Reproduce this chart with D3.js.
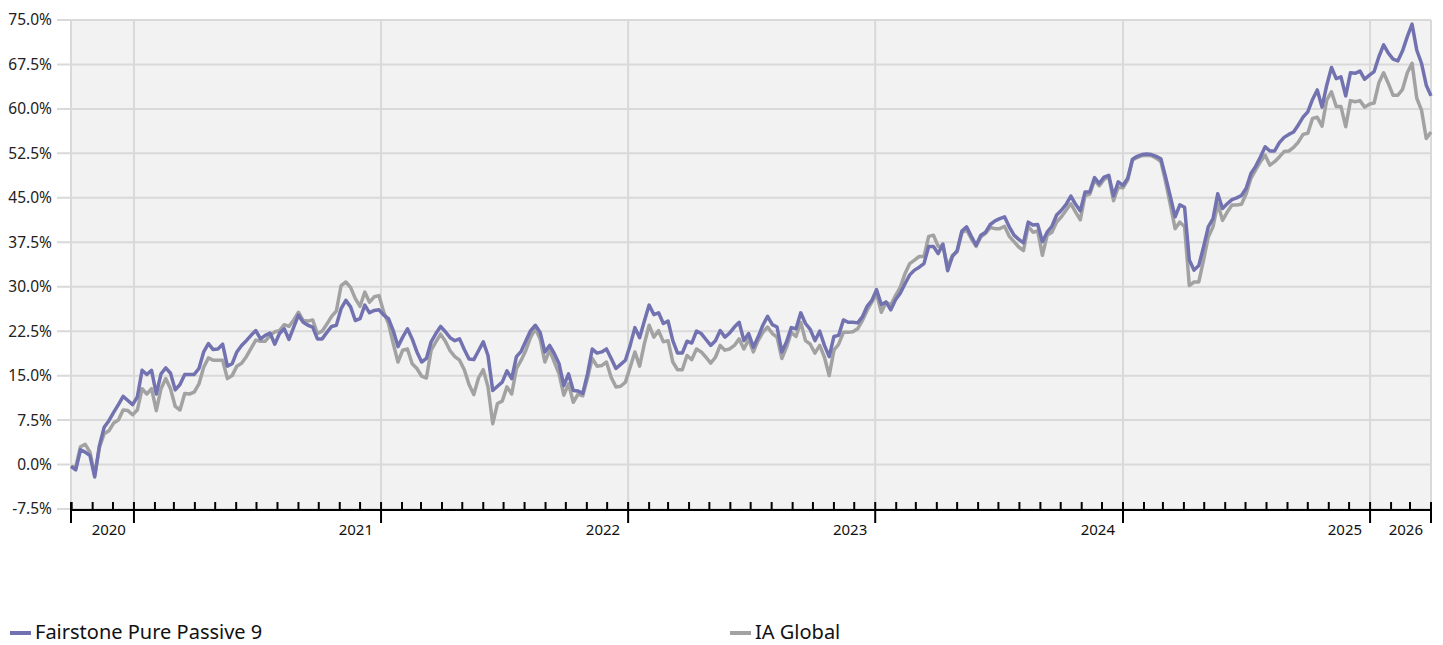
<!DOCTYPE html>
<html>
<head>
<meta charset="utf-8">
<script src="https://cdn.jsdelivr.net/npm/d3@7"></script>
<style>
	body { margin: 0; background: #ffffff; }
	svg { display: block; font-family: 'Noto Sans', sans-serif; }
</style>
</head>
<body>
<svg id="chart" width="1443" height="645"></svg>
<script>

// Series names and colours
var seriesNames = ['Fairstone Pure Passive 9', 'IA Global'];
var seriesColours = ['#7272b1', '#a2a2a2'];

// Weekly observations start on this date
var firstDate = '2020-09-30';
var axisStart = '2020-09-30';
var axisEnd = '2026-04-01';

// Cumulative return (%) - Fairstone Pure Passive 9
var fundValues = [
	-0.3, -0.9, 2.5, 2.1, 1.5, -2.1, 3.2, 6.3, 7.4, 8.8, 10.1, 11.5, 10.8, 10.1, 11.4, 15.9, 15.2, 15.9, 11.9, 15.3,
	16.3, 15.4, 12.6, 13.5, 15.2, 15.2, 15.2, 16.2, 19.0, 20.4, 19.4, 19.5, 20.3, 16.6, 17.0, 19.0, 20.1,
	20.9, 21.8, 22.6, 21.2, 21.8, 22.2, 20.3, 22.1, 22.9, 21.1, 23.2, 25.2, 24.0, 23.5, 23.2, 21.2, 21.2, 22.3,
	23.3, 23.5, 26.3, 27.7, 26.6, 24.3, 24.6, 26.9, 25.6, 26.0, 26.1, 25.2, 24.6, 22.6, 19.9, 21.5, 22.9,
	21.2, 19.0, 17.3, 17.9, 20.7, 22.1, 23.3, 22.4, 21.4, 20.9, 21.2, 19.4, 17.8, 17.7, 19.2, 20.7, 18.4, 12.5,
	13.2, 13.9, 15.8, 14.5, 18.2, 19.1, 20.9, 22.6, 23.5, 22.3, 19.0, 20.1, 18.7, 17.0, 13.3, 15.3, 12.5, 12.4,
	12.0, 15.3, 19.5, 18.8, 19.0, 19.5, 17.9, 16.2, 16.9, 17.6, 20.1, 23.1, 21.4, 24.2, 26.9, 25.3, 25.6, 23.8,
	24.2, 20.9, 18.8, 18.8, 20.8, 20.5, 22.5, 22.1, 21.1, 20.1, 20.9, 22.6, 21.5, 22.2, 23.2, 24.0, 20.9, 22.1,
	19.8, 21.5, 23.5, 25.0, 23.6, 23.2, 19.0, 20.7, 23.1, 22.9, 25.6, 23.8, 22.8, 20.9, 22.5, 20.1, 18.2, 21.6,
	21.8, 24.4, 24.0, 24.0, 23.9, 24.9, 26.7, 27.7, 29.5, 27.0, 27.4, 26.1, 27.8, 28.9, 30.5, 32.0, 32.8, 33.3,
	33.9, 36.8, 36.8, 35.6, 37.2, 32.7, 35.1, 36.1, 39.4, 40.1, 38.5, 37.0, 38.7, 39.2, 40.5, 41.1, 41.5, 41.8,
	40.1, 38.7, 38.0, 37.4, 40.9, 40.4, 40.5, 37.6, 39.2, 40.2, 42.1, 42.9, 43.9, 45.3, 43.9, 42.8, 46.0, 46.0,
	48.4, 47.4, 48.5, 48.8, 45.3, 47.7, 47.1, 48.3, 51.5, 52.0, 52.3, 52.4, 52.3, 52.0, 51.6, 48.5, 45.2, 41.8,
	43.8, 43.4, 34.5, 32.8, 33.6, 36.7, 40.1, 41.5, 45.7, 43.2, 44.0, 44.7, 45.0, 45.4, 46.6, 49.1, 50.3, 51.9,
	53.6, 52.9, 52.9, 54.3, 55.2, 55.7, 56.1, 57.3, 58.6, 59.5, 61.6, 63.2, 60.3, 64.0, 67.0, 65.1, 65.4, 62.2,
	66.1, 66.0, 66.4, 65.0, 65.7, 66.3, 68.8, 70.8, 69.4, 68.4, 68.1, 69.8, 72.2, 74.3, 69.9, 67.7, 64.0, 62.2
];

// Cumulative return (%) - IA Global sector
var sectorValues = [
	-0.3, -0.5, 3.0, 3.4, 2.1, -1.8, 2.9, 5.2, 5.7, 7.0, 7.5, 9.2, 9.1, 8.4, 9.2, 12.8, 11.9, 12.8, 9.1, 12.8,
	14.5, 12.8, 9.8, 9.2, 12.0, 11.9, 12.2, 13.6, 16.4, 18.0, 17.6, 17.6, 17.6, 14.5, 15.0, 16.6, 17.1,
	18.2, 19.6, 21.0, 20.8, 20.8, 21.8, 22.4, 22.6, 23.6, 23.3, 24.4, 25.7, 24.3, 24.2, 24.4, 22.1, 22.5, 23.7,
	25.0, 25.9, 30.2, 30.8, 29.9, 28.0, 26.7, 29.1, 27.4, 28.3, 28.5, 25.7, 23.8, 20.4, 17.3, 19.3, 19.5,
	17.0, 16.2, 14.9, 14.6, 19.3, 20.7, 22.0, 20.8, 19.2, 18.2, 17.6, 16.0, 13.5, 11.8, 14.6, 16.0, 13.1, 6.9,
	10.3, 10.7, 13.1, 11.9, 16.2, 17.6, 19.3, 21.5, 22.9, 21.2, 17.3, 19.3, 17.3, 15.3, 11.7, 13.6, 10.5, 11.9,
	11.6, 14.6, 17.9, 16.6, 16.7, 17.3, 14.7, 13.1, 13.2, 13.9, 16.4, 19.0, 16.6, 20.4, 23.5, 21.5, 22.6, 20.7,
	20.9, 17.3, 16.0, 16.0, 18.4, 17.7, 19.5, 19.0, 18.1, 17.1, 18.1, 20.1, 19.3, 19.5, 20.1, 21.2, 19.5, 21.1,
	19.0, 20.9, 22.3, 23.2, 22.1, 21.5, 17.9, 19.8, 22.3, 21.6, 24.0, 20.9, 20.3, 18.8, 20.1, 18.1, 15.0, 19.3,
	20.3, 22.3, 22.3, 22.4, 22.9, 24.3, 26.0, 27.4, 28.8, 25.7, 27.4, 26.9, 28.5, 29.9, 32.2, 33.9, 34.5, 35.1,
	35.1, 38.5, 38.7, 36.8, 36.9, 33.3, 35.3, 35.9, 39.1, 39.6, 38.1, 36.8, 38.4, 39.0, 40.0, 39.8, 39.8, 40.2,
	38.5, 37.6, 36.7, 36.1, 40.2, 39.2, 39.4, 35.3, 38.7, 39.2, 40.9, 41.8, 42.9, 44.0, 42.6, 41.3, 45.4, 45.6,
	48.0, 47.0, 48.1, 48.6, 44.5, 46.8, 46.7, 48.0, 51.4, 51.8, 52.1, 52.2, 52.1, 51.7, 51.1, 47.7, 43.8, 39.8,
	40.9, 40.1, 30.2, 30.8, 30.8, 34.5, 38.4, 40.1, 44.0, 41.2, 42.6, 43.8, 43.8, 43.9, 45.7, 48.3, 49.7, 51.1,
	52.2, 50.5, 51.1, 51.9, 52.8, 52.9, 53.5, 54.4, 55.7, 55.9, 58.4, 58.6, 57.1, 61.5, 62.9, 60.4, 60.4, 57.0,
	61.4, 61.2, 61.4, 60.3, 60.8, 61.0, 64.4, 66.1, 64.3, 62.3, 62.3, 63.3, 66.1, 67.7, 61.8, 59.8, 55.0, 56.1
];

// Y axis ticks
var yTicks = [-7.5, 0, 7.5, 15, 22.5, 30, 37.5, 45, 52.5, 60, 67.5, 75];

var parseDate = d3.timeParse('%Y-%m-%d');

// Plain hyphen for negative labels
var pctFormat = d3.formatLocale({ decimal: '.', thousands: ',', grouping: [3], currency: ['', ''], minus: '-' }).format('.1f');

var chart = d3.select('#chart');

var x = d3.scaleTime()
	.domain([parseDate(axisStart), parseDate(axisEnd)])
	.range([71, 1431]);

var y = d3.scaleLinear()
	.domain([-7.5, 75])
	.range([509, 20]);

// Build the series records
function buildSeries(values) {
	var start = parseDate(firstDate);
	return values.map(function(v, i) {
		return { date: d3.timeDay.offset(start, i * 7), value: v };
	});
};

var series = [buildSeries(fundValues), buildSeries(sectorValues)];

// Plot background
chart.append('rect')
	.attr('x', x.range()[0])
	.attr('y', y(75))
	.attr('width', x.range()[1] - x.range()[0])
	.attr('height', y(-7.5) - y(75))
	.style('fill', '#f2f2f2');

// Horizontal gridlines
chart.append('g').attr('class', 'ygrid')
	.selectAll('line')
	.data(yTicks)
	.enter()
	.append('line')
	.attr('x1', 57)
	.attr('x2', x.range()[1])
	.attr('y1', function(d) { return y(d); })
	.attr('y2', function(d) { return y(d); })
	.style('stroke', '#d9d9d9')
	.style('stroke-width', 2);

// Vertical gridlines at year starts and the plot edges
var yearStarts = d3.timeYear.range(x.domain()[0], x.domain()[1]).filter(function(d) {
	return d > x.domain()[0];
});
var xGrid = [x.domain()[0]].concat(yearStarts, [x.domain()[1]]);

chart.append('g').attr('class', 'xgrid')
	.selectAll('line')
	.data(xGrid)
	.enter()
	.append('line')
	.attr('x1', function(d) { return x(d); })
	.attr('x2', function(d) { return x(d); })
	.attr('y1', y(75))
	.attr('y2', y(-7.5))
	.style('stroke', '#d9d9d9')
	.style('stroke-width', 2);

// Y labels
chart.append('g').attr('class', 'ylabels')
	.selectAll('text')
	.data(yTicks)
	.enter()
	.append('text')
	.attr('x', 52)
	.attr('y', function(d) { return y(d); })
	.attr('dy', '0.35em')
	.style('text-anchor', 'end')
	.style('font-size', '15.5px')
	.style('fill', '#222')
	.text(function(d) { return pctFormat(d) + '%'; });

// Lines (sector first so the fund sits on top)
var line = d3.line()
	.x(function(d) { return x(d.date); })
	.y(function(d) { return y(d.value); });

[1, 0].forEach(function(k) {
	chart.append('path')
		.datum(series[k])
		.attr('d', line)
		.style('fill', 'none')
		.style('stroke', seriesColours[k])
		.style('stroke-width', 3.5)
		.style('stroke-linejoin', 'round');
});

// X axis: month ticks, year ticks and labels
var axisY = 510;
var axisG = chart.append('g').attr('class', 'xaxis');

axisG.append('line')
	.attr('x1', x.range()[0])
	.attr('x2', x.range()[1])
	.attr('y1', axisY)
	.attr('y2', axisY)
	.style('stroke', '#000')
	.style('stroke-width', 2);

var months = d3.timeMonth.range(x.domain()[0], x.domain()[1]).filter(function(d) {
	return d.getMonth() != 0 && d > x.domain()[0];
});

axisG.selectAll('.minor')
	.data(months)
	.enter()
	.append('line')
	.attr('class', 'minor')
	.attr('x1', function(d) { return x(d); })
	.attr('x2', function(d) { return x(d); })
	.attr('y1', axisY - 8)
	.attr('y2', axisY)
	.style('stroke', '#000')
	.style('stroke-width', 2);

axisG.selectAll('.major')
	.data(xGrid)
	.enter()
	.append('line')
	.attr('class', 'major')
	.attr('x1', function(d) { return x(d); })
	.attr('x2', function(d) { return x(d); })
	.attr('y1', axisY - 8)
	.attr('y2', axisY + 13)
	.style('stroke', '#000')
	.style('stroke-width', 2);

// Year label sits just left of the end of its year
var years = d3.range(x.domain()[0].getFullYear(), x.domain()[1].getFullYear() + 1);

axisG.selectAll('.yearLabel')
	.data(years)
	.enter()
	.append('text')
	.attr('class', 'yearLabel')
	.attr('x', function(d) {
		var end = d3.min([new Date(d + 1, 0, 1), x.domain()[1]]);
		return x(end) - 8;
	})
	.attr('y', 535)
	.style('text-anchor', 'end')
	.style('font-size', '15px')
	.style('fill', '#111')
	.text(function(d) { return d; });

// Legend
var legendX = [10, 730];

var legend = chart.append('g').attr('class', 'legend')
	.selectAll('g')
	.data(seriesNames)
	.enter()
	.append('g')
	.attr('transform', function(d, i) { return 'translate(' + legendX[i] + ',633)'; });

legend.append('line')
	.attr('x1', 0)
	.attr('x2', 21)
	.attr('y1', 0)
	.attr('y2', 0)
	.style('stroke', function(d, i) { return seriesColours[i]; })
	.style('stroke-width', 4);

legend.append('text')
	.attr('x', 25)
	.attr('y', 5.5)
	.style('font-size', '20px')
	.style('fill', '#111')
	.text(function(d) { return d; });

</script>
</body>
</html>
